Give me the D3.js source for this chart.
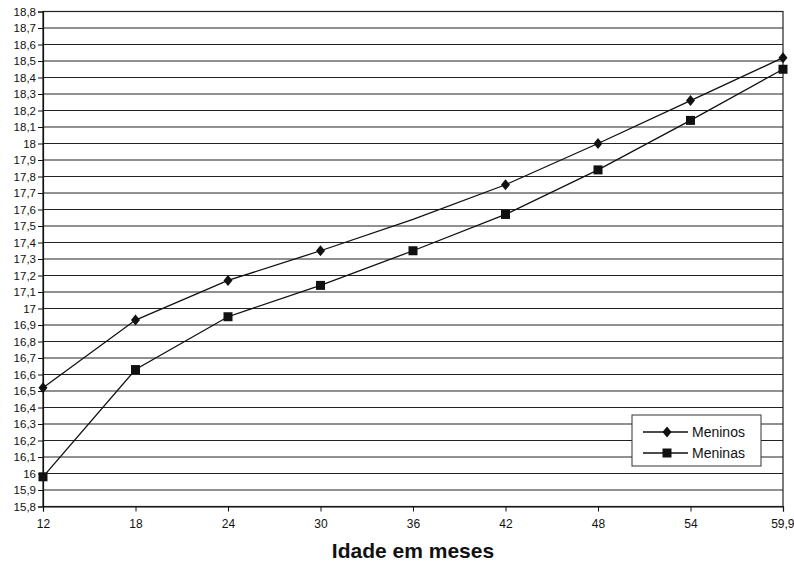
<!DOCTYPE html>
<html><head><meta charset="utf-8">
<script src="https://cdn.jsdelivr.net/npm/d3@7"></script>
<style>body{margin:0;background:#fff}svg{display:block}</style>
</head><body><svg id="c" width="794" height="562"></svg>
<script>
const categories = ["12","18","24","30","36","42","48","54","59,9"];
const meninos = [16.52,16.93,17.17,17.35,17.54,17.75,18.00,18.26,18.52];
const meninas = [15.98,16.63,16.95,17.14,17.35,17.57,17.84,18.14,18.45];
const meninosMarkers = [true,true,true,true,false,true,true,true,true];
const yTicks = d3.range(158,189).map(v=>v/10);
const seriesNames = ["Meninos","Meninas"];
const xTitle = "Idade em meses";

const svg = d3.select("#c");
const L=43,R=783,T=11.5,B=506.5;
const x = d3.scalePoint().domain(categories).range([L,R]).padding(0);
const y = d3.scaleLinear().domain([15.8,18.8]).range([B,T]);
const fmt = v => { const s = (Math.round(v*10)/10).toString(); return s.replace(".",","); };

// gridlines
svg.append("g").selectAll("line").data(yTicks.slice(1)).join("line")
  .attr("x1",L).attr("x2",R).attr("y1",d=>y(d)).attr("y2",d=>y(d))
  .attr("stroke","#222").attr("stroke-width",1.2);
// border
svg.append("rect").attr("x",L).attr("y",T).attr("width",R-L).attr("height",B-T)
  .attr("fill","none").attr("stroke","#222").attr("stroke-width",1.2);

// y axis
const ya = svg.append("g").attr("transform",`translate(${L},0)`)
  .call(d3.axisLeft(y).tickValues(yTicks).tickFormat(fmt).tickSize(5).tickPadding(2));
ya.select(".domain").attr("stroke","#111").attr("stroke-width",1.2);
ya.selectAll(".tick line").attr("stroke","#111");
ya.selectAll("text").attr("font-family","Liberation Sans, Arial, sans-serif").attr("font-size","11.5px").attr("fill","#111");

// x axis
const xa = svg.append("g").attr("transform",`translate(0,${B})`)
  .call(d3.axisBottom(x).tickSize(5).tickPadding(8));
xa.select(".domain").attr("stroke","#111").attr("stroke-width",1.2);
xa.selectAll(".tick line").attr("stroke","#111");
xa.selectAll("text").attr("font-family","Liberation Sans, Arial, sans-serif").attr("font-size","12px").attr("fill","#111");
xa.selectAll(".tick").filter(d=>d===categories[categories.length-1]).select("text")
  .attr("text-anchor","end").attr("x",11);

svg.append("text").attr("x",(L+R)/2).attr("y",558).attr("text-anchor","middle")
  .attr("font-family","Liberation Sans, Arial, sans-serif").attr("font-weight","bold")
  .attr("font-size","21px").attr("fill","#111").text(xTitle);

const line = d3.line().x((d,i)=>x(categories[i])).y(d=>y(d));
const diamond = "M0,-5.5L4.5,0L0,5.5L-4.5,0Z";
[meninos, meninas].forEach((s,k)=>{
  svg.append("path").datum(s).attr("d",line).attr("fill","none").attr("stroke","#111").attr("stroke-width",1.3);
});
svg.append("g").selectAll("path").data(meninos.map((v,i)=>({v,i})).filter(d=>meninosMarkers[d.i])).join("path")
  .attr("d",diamond).attr("transform",d=>`translate(${x(categories[d.i])},${y(d.v)})`).attr("fill","#111");
svg.append("g").selectAll("rect").data(meninas.map((v,i)=>({v,i}))).join("rect")
  .attr("x",d=>x(categories[d.i])-4.5).attr("y",d=>y(d.v)-4.5).attr("width",9).attr("height",9).attr("fill","#111");

// legend
const lg = svg.append("g");
lg.append("rect").attr("x",632).attr("y",415).attr("width",129).attr("height",51)
  .attr("fill","#fff").attr("stroke","#333").attr("stroke-width",1);
seriesNames.forEach((n,k)=>{
  const yy = 432 + k*21;
  lg.append("line").attr("x1",643).attr("x2",688).attr("y1",yy).attr("y2",yy).attr("stroke","#111").attr("stroke-width",1.3);
  if(k===0) lg.append("path").attr("d",diamond).attr("transform",`translate(667,${yy})`).attr("fill","#111");
  else lg.append("rect").attr("x",662.5).attr("y",yy-4.5).attr("width",9).attr("height",9).attr("fill","#111");
  lg.append("text").attr("x",692).attr("y",yy+5).attr("font-family","Liberation Sans, Arial, sans-serif")
    .attr("font-size","14px").attr("fill","#111").text(n);
});
</script></body></html>
